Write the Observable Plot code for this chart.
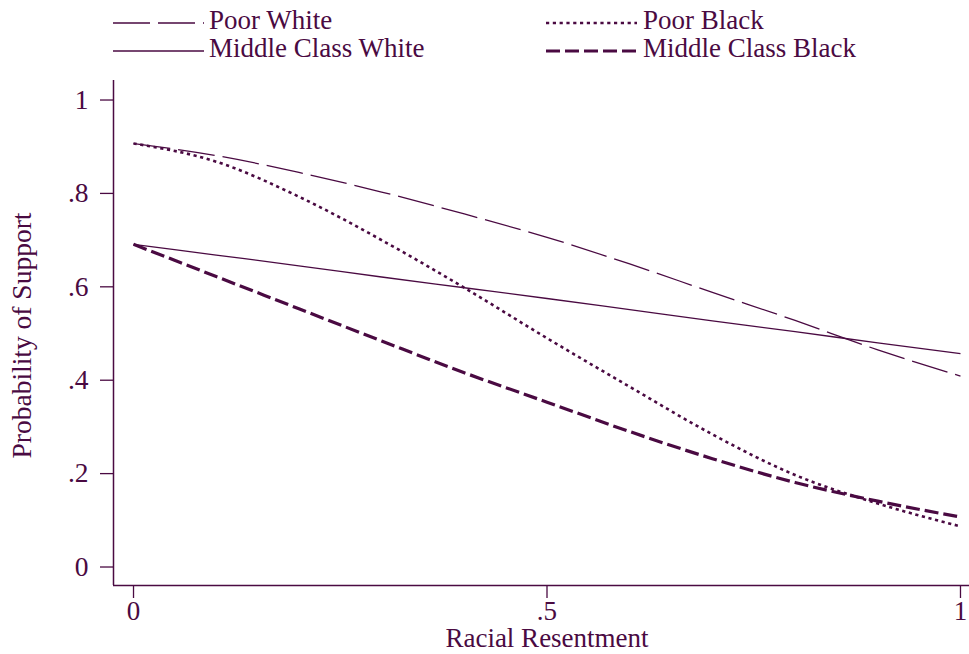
<!DOCTYPE html>
<html>
<head>
<meta charset="utf-8">
<script src="https://cdn.jsdelivr.net/npm/d3@7"></script>
<script src="https://cdn.jsdelivr.net/npm/@observablehq/plot@0.6"></script>
<style>
  html, body { margin: 0; padding: 0; background: #fff; }
  #wrap { position: relative; width: 969px; height: 654px; font-family: "Liberation Serif", "DejaVu Serif", serif; color: #4a0a42; }
  .leg { position: absolute; font-size: 27px; line-height: 1; white-space: nowrap; }
  .legsvg { position: absolute; }
</style>
</head>
<body>
<div id="wrap"></div>
<script>
const color = "#4a0a42";
const resentment = [0, 0.1, 0.2, 0.3, 0.4, 0.5, 0.6, 0.7, 0.8, 0.9, 1];
const poorWhite = [0.907, 0.881, 0.845, 0.803, 0.756, 0.706, 0.649, 0.588, 0.528, 0.465, 0.409];
const middleWhite = [0.691, 0.668, 0.645, 0.621, 0.598, 0.575, 0.551, 0.527, 0.504, 0.480, 0.457];
const poorBlack = [0.907, 0.868, 0.793, 0.700, 0.598, 0.490, 0.386, 0.284, 0.197, 0.136, 0.087];
const middleBlack = [0.691, 0.622, 0.553, 0.484, 0.416, 0.353, 0.290, 0.232, 0.181, 0.141, 0.107];
const seriesNames = ["Poor White", "Poor Black", "Middle Class White", "Middle Class Black"];
const yTicks = [0, 0.2, 0.4, 0.6, 0.8, 1];
const xTicks = [0, 0.5, 1];
const xTitle = "Racial Resentment";
const yTitle = "Probability of Support";

const styles = {
  "Poor White": {strokeWidth: 1.3, dash: "37,8"},
  "Poor Black": {strokeWidth: 2.6, dash: "3.2,3.6"},
  "Middle Class White": {strokeWidth: 1.3, dash: null},
  "Middle Class Black": {strokeWidth: 3.2, dash: "14,5"}
};
const valuesBy = {
  "Poor White": poorWhite, "Poor Black": poorBlack,
  "Middle Class White": middleWhite, "Middle Class Black": middleBlack
};
const rows = name => resentment.map((x, i) => ({x, y: valuesBy[name][i]}));

const fmt = d => d === 0 ? "0" : d === 1 ? "1" : String(d).replace(/^0\./, ".");
const xDom = [-0.0242, 1.0109];
const yDom = [-0.0396, 1.0418];

const lineMarks = seriesNames.map(name => Plot.line(rows(name), {
  x: "x", y: "y", curve: "monotone-x", stroke: color,
  strokeWidth: styles[name].strokeWidth,
  strokeDasharray: styles[name].dash,
  strokeLinecap: "butt"
}));

const chart = Plot.plot({
  width: 969, height: 654,
  marginLeft: 113, marginRight: 0, marginTop: 80, marginBottom: 69,
  style: {fontFamily: "Liberation Serif, DejaVu Serif, serif", color: color, background: "transparent", overflow: "visible"},
  x: {domain: xDom},
  y: {domain: yDom},
  marks: [
    Plot.axisY(yTicks, {tickFormat: fmt, tickSize: 13, tickPadding: 12, fontSize: 27.5, label: null, strokeWidth: 1.3}),
    Plot.axisX(xTicks, {tickFormat: fmt, tickSize: 13, tickPadding: 2, fontSize: 27, label: null, strokeWidth: 1.3}),
    Plot.ruleX([xDom[0]], {stroke: color, strokeWidth: 1.5}),
    Plot.ruleY([yDom[0]], {stroke: color, strokeWidth: 1.5}),
    ...lineMarks,
    Plot.text([xTitle], {x: 0.5, frameAnchor: "bottom", lineAnchor: "middle", textAnchor: "middle", dy: 53, fontSize: 27, fill: color, text: d => d}),
    Plot.text([yTitle], {y: 0.4957, frameAnchor: "left", lineAnchor: "middle", textAnchor: "middle", dx: -91, rotate: -90, fontSize: 27.5, fill: color, text: d => d})
  ]
});
const wrap = document.getElementById("wrap");
wrap.appendChild(chart);

// legend
const legendItems = [
  {name: "Poor White", lx: 113, tx: 209, row: 0},
  {name: "Poor Black", lx: 546, tx: 643, row: 0},
  {name: "Middle Class White", lx: 113, tx: 209, row: 1},
  {name: "Middle Class Black", lx: 546, tx: 643, row: 1}
];
for (const it of legendItems) {
  const lineY = it.row === 0 ? 23 : 51;
  const s = styles[it.name];
  const svg = document.createElementNS("http://www.w3.org/2000/svg", "svg");
  svg.setAttribute("class", "legsvg");
  svg.setAttribute("width", 92); svg.setAttribute("height", 10);
  svg.style.left = it.lx + "px"; svg.style.top = (lineY - 5) + "px";
  const ln = document.createElementNS("http://www.w3.org/2000/svg", "line");
  ln.setAttribute("x1", 0); ln.setAttribute("x2", 91);
  ln.setAttribute("y1", 5); ln.setAttribute("y2", 5);
  ln.setAttribute("stroke", color);
  ln.setAttribute("stroke-width", s.strokeWidth);
  if (s.dash) ln.setAttribute("stroke-dasharray", s.dash);
  svg.appendChild(ln);
  wrap.appendChild(svg);
  const t = document.createElement("div");
  t.className = "leg";
  t.textContent = it.name;
  t.style.left = it.tx + "px";
  t.style.top = (it.row === 0 ? 7 : 35) + "px";
  wrap.appendChild(t);
}
</script>
</body>
</html>
